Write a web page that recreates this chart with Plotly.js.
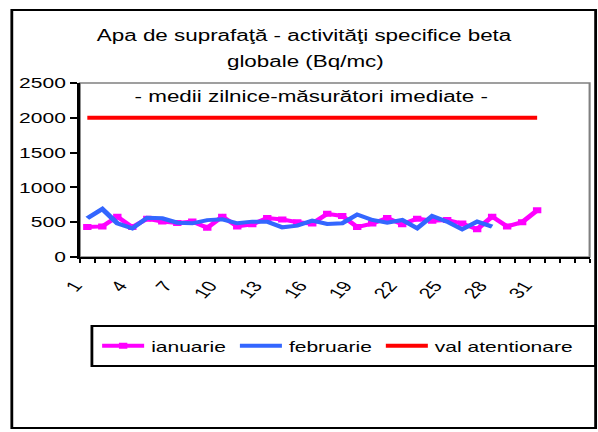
<!DOCTYPE html>
<html><head><meta charset="utf-8">
<script src="https://cdn.plot.ly/plotly-3.0.1.min.js"></script>
<style>
html,body{margin:0;padding:0;background:#fff;overflow:hidden;}
#wrap{width:598px;height:432px;overflow:hidden;position:relative;}
#chart{width:427px;height:432px;transform:scaleX(1.4005);transform-origin:0 0;}
</style></head><body>
<div id="wrap"><div id="chart"></div></div>
<script>
// Data
const days = [1,2,3,4,5,6,7,8,9,10,11,12,13,14,15,16,17,18,19,20,21,22,23,24,25,26,27,28,29,30,31];
const febDays = [1,2,3,4,5,6,7,8,9,10,11,12,13,14,15,16,17,18,19,20,21,22,23,24,25,26,27,28];
const ianuarie = [430,440,580,430,550,510,490,510,420,580,440,470,560,540,500,480,620,590,430,480,560,470,550,520,530,480,400,580,440,500,670];
const februarie = [556,690,484,412,565,556,493,484,530,541,484,508,508,426,450,522,474,484,610,532,493,532,412,590,508,398,508,436];
const valAtentionare = [2000,2000,2000,2000,2000,2000,2000,2000,2000,2000,2000,2000,2000,2000,2000,2000,2000,2000,2000,2000,2000,2000,2000,2000,2000,2000,2000,2000,2000,2000,2000];
const tickVals = [1,4,7,10,13,16,19,22,25,28,31];
const tickLabels = ["1","4","7","10","13","16","19","22","25","28","31"];
const seriesNames = ["ianuarie","februarie","val atentionare"];
const titleLine1 = 'Apa de suprafaţă - activităţi specifice beta';
const titleLine2 = 'globale (Bq/mc)';
const subtitleText = '- medii zilnice-măsurători imediate -';

const FONT = "Liberation Sans, Arial, sans-serif";

const traces = [
  {x: days, y: ianuarie, name: seriesNames[0], type: 'scatter', mode: 'lines+markers',
   line: {color: '#FF00FF', width: 4}, marker: {symbol: 'square', size: 6, color: '#FF00FF'}},
  {x: febDays, y: februarie, name: seriesNames[1], type: 'scatter', mode: 'lines',
   line: {color: '#3366FF', width: 4}},
  {x: days, y: valAtentionare, name: seriesNames[2], type: 'scatter', mode: 'lines',
   line: {color: '#FF0000', width: 4}}
];

const layout = {
  width: 427, height: 432,
  margin: {l: 57, r: 6.3, t: 83, b: 175, autoexpand: false},
  paper_bgcolor: '#ffffff', plot_bgcolor: '#ffffff',
  font: {family: FONT, size: 15, color: '#000'},
  title: {
    text: titleLine1,
    font: {family: FONT, size: 16, color: '#000'},
    x: 0.5085, xanchor: 'center', xref: 'container',
    y: 1 - 35/432, yanchor: 'middle', yref: 'container'
  },
  showlegend: true,
  legend: {
    orientation: 'h', x: 0.03, xanchor: 'left', y: -0.5115, yanchor: 'middle',
    font: {family: FONT, size: 15, color: '#000'},
    bgcolor: 'rgba(0,0,0,0)', borderwidth: 0, itemwidth: 30
  },
  xaxis: {
    range: [0.5, 34.5], tickmode: 'array', tickvals: tickVals, ticktext: tickLabels,
    ticks: '', tickangle: -54, ticklabelstandoff: 12, ticklabelshift: -9,
    tickfont: {family: FONT, size: 15, color: '#000'},
    showline: true, linecolor: '#000', linewidth: 2, showgrid: false, zeroline: false,
    minor: {tickmode: 'linear', tick0: 0.5, dtick: 1, ticks: 'outside', ticklen: 4,
            tickwidth: 1.5, tickcolor: '#000', showgrid: false},
    fixedrange: true
  },
  yaxis: {
    range: [0, 2500], tickmode: 'linear', tick0: 0, dtick: 500,
    ticks: 'outside', ticklen: 5, tickwidth: 2, tickcolor: '#000',
    tickfont: {family: FONT, size: 15, color: '#000'},
    showline: true, linecolor: '#000', linewidth: 2, showgrid: false, zeroline: false,
    fixedrange: true
  },
  shapes: [
    {type: 'rect', xref: 'paper', yref: 'paper', x0: 0, x1: 1, y0: 0, y1: 1,
     line: {color: '#808080', width: 1.5}, layer: 'below'},
    {type: 'rect', xref: 'paper', yref: 'paper', x0: -0.1334, x1: 1.0118, y0: -0.9828, y1: 1.4195,
     line: {color: '#000', width: 2}},
    {type: 'rect', xref: 'paper', yref: 'paper', x0: 0.0237, x1: 1.0118, y0: -0.6264, y1: -0.3966,
     line: {color: '#000', width: 2}}
  ],
  annotations: [
    {text: titleLine2, xref: 'paper', yref: 'paper',
     x: 0.442, y: 1.1207, xanchor: 'center', yanchor: 'middle', showarrow: false,
     font: {family: FONT, size: 16, color: '#000'}},
    {text: subtitleText, xref: 'paper', yref: 'paper',
     x: 0.4536, y: 0.925, xanchor: 'center', yanchor: 'middle', showarrow: false,
     font: {family: FONT, size: 16, color: '#000'}}
  ]
};

Plotly.newPlot('chart', traces, layout, {displayModeBar: false, staticPlot: true});
</script>
</body></html>
